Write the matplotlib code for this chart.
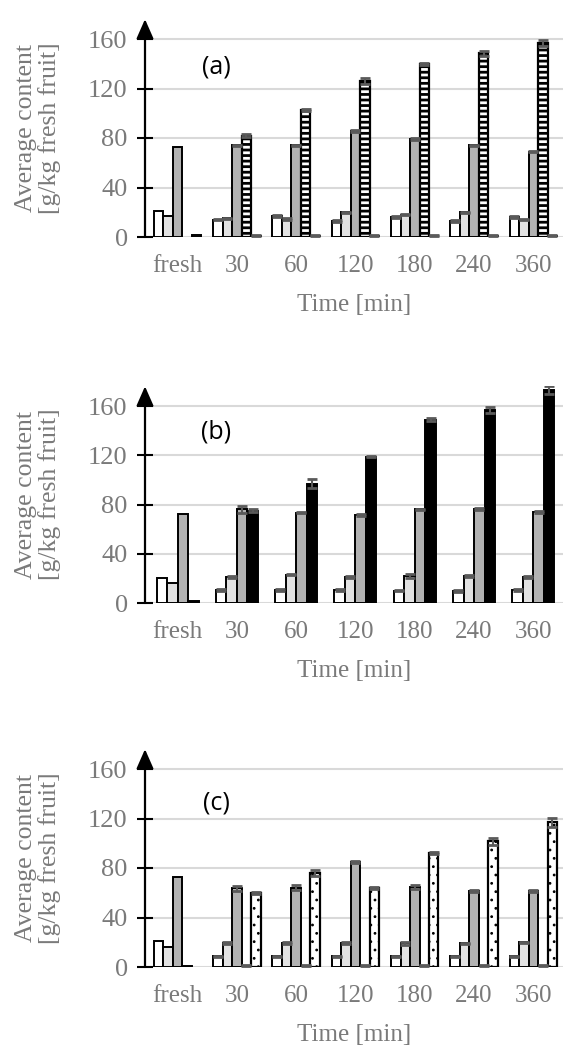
import numpy as np
import matplotlib
matplotlib.use('Agg')
import matplotlib.pyplot as plt

# category labels (drying time)
times = ['fresh', '30', '60', '120', '180', '240', '360']
nan = np.nan

# panel (a) - five series
a_s1 = [21, 14, 17, 13, 16, 13, 16]
a_s2 = [17, 15, 14.5, 20, 18, 20, 14]
a_s3 = [73, 74, 74, 85.5, 79, 74, 69]
a_s4 = [nan, 82, 103, 126, 139.5, 148.5, 157]
a_s5 = [2, 1, 1, 1, 1, 1, 1]
a_e1 = [0, 0.6, 0.6, 0.6, 0.6, 0.6, 0.6]
a_e2 = [0, 0.6, 0.6, 0.6, 0.6, 0.6, 0.6]
a_e3 = [0, 0.6, 0.6, 0.6, 0.6, 0.6, 0.6]
a_e4 = [0, 1, 0.8, 2.5, 0.8, 2, 2.5]
a_e5 = [0, 0.3, 0.3, 0.3, 0.3, 0.3, 0.3]

# panel (b) - four series
b_s1 = [20, 10.5, 10.5, 10.5, 10, 9.7, 10.5]
b_s2 = [16, 21, 23, 21, 22, 22, 21]
b_s3 = [72.5, 76, 73.5, 71.5, 76, 76.5, 74]
b_s4 = [2, 75, 97, 119, 149, 156.5, 173]
b_e1 = [0, 0.6, 0.6, 0.6, 0.6, 0.6, 0.6]
b_e2 = [0, 1, 0.6, 0.6, 1.5, 0.6, 0.6]
b_e3 = [0, 2.5, 0.6, 0.6, 0.6, 0.6, 1]
b_e4 = [0, 1, 3.5, 0.8, 1, 2.5, 3]

# panel (c) - five series
c_s1 = [21, 8.5, 8.5, 8.5, 8.5, 8.5, 8.5]
c_s2 = [16.5, 19.5, 19.5, 19.5, 19, 19, 20]
c_s3 = [72.5, 63.5, 64, 84.5, 64.5, 61.5, 61.5]
c_s4 = [1, 1.2, 1.2, 1.2, 1.2, 1.2, 1.2]
c_s5 = [nan, 60, 76, 63.5, 92, 101.5, 117]
c_e1 = [0, 0.6, 0.6, 0.6, 0.6, 0.6, 0.6]
c_e2 = [0, 1, 1, 0.6, 1, 0.6, 0.6]
c_e3 = [0, 2, 2, 0.8, 1.5, 0.6, 0.6]
c_e4 = [0, 0.3, 0.3, 0.3, 0.3, 0.3, 0.3]
c_e5 = [0, 1, 2.5, 0.8, 1, 3, 3.5]

GRAY_TXT = '#7a7a7a'

plt.rcParams['font.family'] = ['Liberation Serif', 'DejaVu Serif']
plt.rcParams['hatch.linewidth'] = 2.0

W, H = 565, 1045
fig = plt.figure(figsize=(W / 100, H / 100), dpi=100)

# style per series: (face, hatch)
styles = {
    'white': dict(fc='white', hatch=None),
    'light': dict(fc='#e2e2e2', hatch=None),
    'gray': dict(fc='#b2b2b2', hatch=None),
    'ladder': dict(fc='black', hatch='---', hc='white'),
    'black': dict(fc='black', hatch=None),
    'dots': dict(fc='white', hatch='..', hc='black'),
}


def draw_bars(ax, series, errs, kinds, width):
    n = len(series)
    x = np.arange(len(times))
    for i, (vals, err, kind) in enumerate(zip(series, errs, kinds)):
        vals = np.array(vals, dtype=float)
        err = np.array(err, dtype=float)
        m = ~np.isnan(vals)
        xi = x[m] + (i - (n - 1) / 2) * width
        st = styles[kind]
        if st['hatch']:
            bars = ax.bar(xi, vals[m], width, color=st['fc'], edgecolor=st['hc'],
                          hatch=st['hatch'], linewidth=0, zorder=3)
            if kind == 'dots':
                for b in bars:
                    if hasattr(b, 'set_hatch_linewidth'):
                        b.set_hatch_linewidth(0.8)
            ax.bar(xi, vals[m], width, fill=False, edgecolor='black', linewidth=1.6, zorder=4)
        else:
            ax.bar(xi, vals[m], width, color=st['fc'], edgecolor='black', linewidth=1.4, zorder=3)
        em = m & (err > 0)
        ax.errorbar(x[em] + (i - (n - 1) / 2) * width, vals[em], yerr=err[em], fmt='none',
                    ecolor='#5a5a5a', elinewidth=1.5, capsize=3.4, capthick=2, zorder=5)


def setup(ax, label, ly):
    ax.set_xlim(-0.55, 6.5)
    ax.set_ylim(0, 176)
    ax.set_yticks([0, 40, 80, 120, 160])
    ax.yaxis.grid(True, color='#d9d9d9', linewidth=1.5, zorder=0)
    ax.set_axisbelow(True)
    for s in ['top', 'right', 'bottom', 'left']:
        ax.spines[s].set_visible(False)
    ax.annotate('', xy=(0, 1), xycoords='axes fraction', xytext=(0, 0),
                textcoords='axes fraction',
                arrowprops=dict(arrowstyle='-|>,head_length=0.5,head_width=0.22',
                                color='black', lw=1.6, mutation_scale=24,
                                shrinkA=0, shrinkB=0), zorder=6)
    ax.tick_params(axis='y', direction='inout', length=11, width=1.5, color='black',
                   labelsize=19, labelcolor=GRAY_TXT, pad=7)
    ax.tick_params(axis='x', length=0, labelsize=18, labelcolor=GRAY_TXT, pad=13)
    ax.set_xticks(np.arange(len(times)))
    ax.set_xticklabels(times)
    ax.set_xlabel('Time [min]', fontsize=18, color=GRAY_TXT, labelpad=12)
    ax.text(0.17, ly, label, transform=ax.transAxes, fontsize=18, family='Open Sans',
            ha='center', va='center', color='black')


# (y of zero line in px, px per unit)
layout = [(237, 1.2375), (603, 1.231), (967, 1.2375)]
axes = []
for y0, sc in layout:
    h = 176 * sc
    ax = fig.add_axes([145 / W, 1 - y0 / H, 418 / W, h / H])
    axes.append(ax)
    # y label as two lines
    fig.text(38 / W, 1 - (y0 - h / 2) / H, 'Average content\n[g/kg fresh fruit]',
             rotation=90, ha='center', va='center', fontsize=18.5, color=GRAY_TXT,
             linespacing=1.05)

draw_bars(axes[0], [a_s1, a_s2, a_s3, a_s4, a_s5], [a_e1, a_e2, a_e3, a_e4, a_e5],
          ['white', 'light', 'gray', 'ladder', 'light'], 0.16)
setup(axes[0], '(a)', 0.78)

draw_bars(axes[1], [b_s1, b_s2, b_s3, b_s4], [b_e1, b_e2, b_e3, b_e4],
          ['white', 'light', 'gray', 'black'], 0.177)
setup(axes[1], '(b)', 0.79)

draw_bars(axes[2], [c_s1, c_s2, c_s3, c_s4, c_s5], [c_e1, c_e2, c_e3, c_e4, c_e5],
          ['white', 'light', 'gray', 'light', 'dots'], 0.16)
setup(axes[2], '(c)', 0.755)

fig.savefig('out.png', dpi=100)
